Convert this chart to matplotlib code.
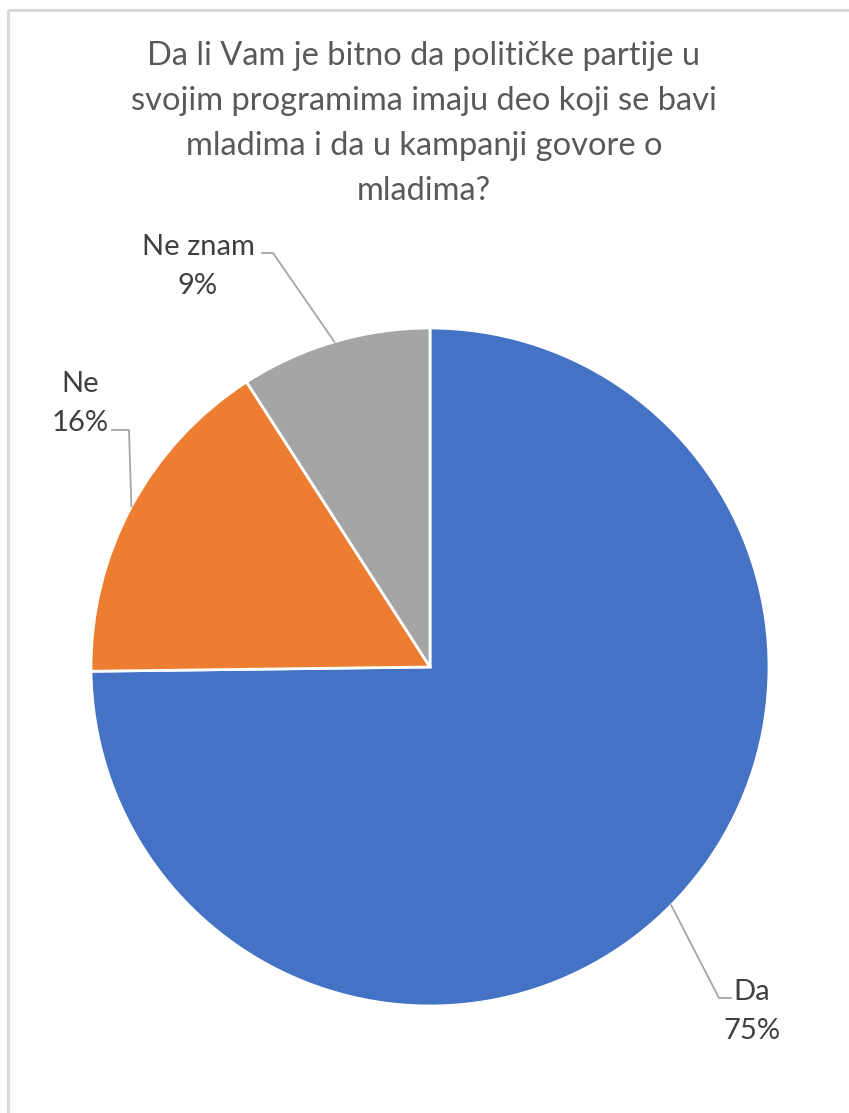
import numpy as np
import matplotlib
matplotlib.use("Agg")
import matplotlib.pyplot as plt

# ---- data ----
categories = ["Da", "Ne", "Ne znam"]
values = [74.8, 16.1, 9.1]
pct_labels = ["75%", "16%", "9%"]
colors = ["#4472C4", "#ED7D31", "#A5A5A5"]
title_lines = ["Da li Vam je bitno da političke partije u",
               "svojim programima imaju deo koji se bavi",
               "mladima i da u kampanji govore o",
               "mladima?"]

W, H = 849, 1113
plt.rcParams['font.family'] = ['Lato', 'DejaVu Sans']

fig = plt.figure(figsize=(W / 100, H / 100), dpi=100)
ax = fig.add_axes([0, 0, 1, 1])

def Y(y):
    return H - y

cx, cy, r = 430, 667, 339
wedges, _ = ax.pie(values, colors=colors, startangle=90, counterclock=False,
                   center=(cx, Y(cy)), radius=r,
                   wedgeprops=dict(edgecolor='white', linewidth=2.0))
ax.set_xlim(0, W)
ax.set_ylim(0, H)
ax.set_aspect('equal')
ax.axis('off')

# frame (top and left edges visible)
ax.plot([8.5, W], [Y(9.5), Y(9.5)], color="#D9D9D9", lw=2.2, solid_capstyle='butt')
ax.plot([8.5, 8.5], [Y(9.5), 0], color="#D9D9D9", lw=2.2, solid_capstyle='butt')

for i, line in enumerate(title_lines):
    ax.text(424, Y(65 + 45 * i), line, ha='center', va='baseline', fontsize=23.5,
            color="#595959")

# label layout: (elbow, end of leader, label center x, first baseline y)
layout = {
    "Da": ((719, 998), (731, 998), 752, 1000),
    "Ne": ((129, 430), (112, 430), 80, 392),
    "Ne znam": ((273, 253), (262, 253), 198, 255),
}
for w, cat, pl in zip(wedges, categories, pct_labels):
    ang = np.deg2rad((w.theta1 + w.theta2) / 2)
    sx, sy = cx + r * np.cos(ang), Y(cy) + r * np.sin(ang)
    (ex, ey), (tx, ty), lx, ly = layout[cat]
    ax.plot([sx, ex, tx], [sy, Y(ey), Y(ty)], color="#A6A6A6", lw=1.3)
    ax.text(lx, Y(ly), cat, ha='center', va='baseline', fontsize=21, color="#404040")
    ax.text(lx, Y(ly + 39), pl, ha='center', va='baseline', fontsize=21, color="#404040")

fig.savefig("out.png", dpi=100, facecolor='white')
